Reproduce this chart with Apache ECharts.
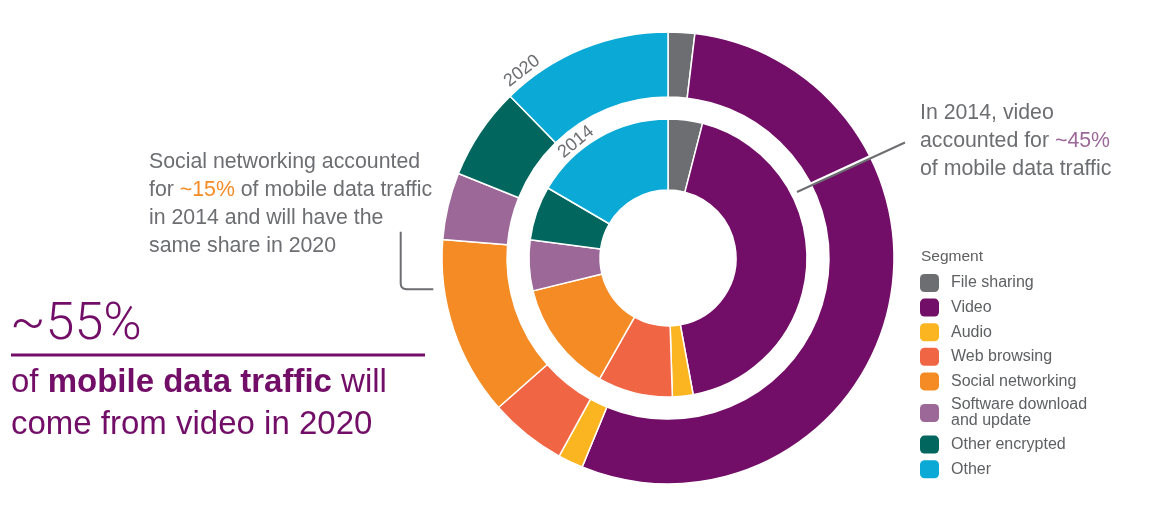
<!DOCTYPE html>
<html>
<head>
<meta charset="utf-8">
<script src="https://cdn.jsdelivr.net/npm/echarts@6/dist/echarts.min.js"></script>
<style>
html,body{margin:0;padding:0;background:#fff;}
#chart{width:1168px;height:524px;}
</style>
</head>
<body>
<div id="chart"></div>
<script>
var segments = ['File sharing', 'Video', 'Audio', 'Web browsing', 'Social networking', 'Software download and update', 'Other encrypted', 'Other'];
var colors = ['#6d6e71', '#720e67', '#fbb520', '#f06543', '#f48b24', '#9b6898', '#00665e', '#0aa9d6'];
var share2014 = [4.0, 43.1, 2.4, 8.7, 13.0, 5.9, 6.3, 16.6];
var share2020 = [1.9, 54.3, 1.8, 5.5, 12.8, 4.8, 6.6, 12.3];
var ringLabels = ['2014', '2020'];

var gray = '#6d6e71';
var font = 'Liberation Sans, Arial, sans-serif';

function toData(vals) {
  return segments.map(function (n, i) { return { name: n, value: vals[i], itemStyle: { color: colors[i] } }; });
}

var chart = echarts.init(document.getElementById('chart'), null, { renderer: 'canvas' });
var option = {
  animation: false,
  backgroundColor: '#fff',
  color: colors,
  legend: {
    orient: 'vertical',
    left: 920,
    top: 274,
    padding: 0,
    icon: 'roundRect',
    itemWidth: 19,
    itemHeight: 18,
    itemGap: 6.6,
    itemStyle: { borderWidth: 0 },
    selectedMode: false,
    data: segments,
    formatter: function (n) { return n === 'Software download and update' ? 'Software download\nand update' : n; },
    textStyle: { fontFamily: font, fontSize: 16, color: '#5f6062', lineHeight: 16, padding: [0, 0, 0, 7] }
  },
  graphic: [
    { type: 'text', z: 20, x: 921, y: 249, style: { text: 'Segment', font: '15.5px ' + font, fill: '#5f6062' } },
    { type: 'text', z: 20, x: 576, y: 142, rotation: 0.68, style: { text: ringLabels[0], font: '18px ' + font, fill: gray, align: 'center', verticalAlign: 'middle' } },
    { type: 'text', z: 20, x: 522, y: 71, rotation: 0.66, style: { text: ringLabels[1], font: '18px ' + font, fill: gray, align: 'center', verticalAlign: 'middle', stroke: '#fff', lineWidth: 3 } },
    { type: 'line', z: 20, shape: { x1: 799, y1: 189.3, x2: 905, y2: 140.3 }, style: { stroke: '#fff', lineWidth: 3 } },
    { type: 'line', z: 21, shape: { x1: 797, y1: 192, x2: 905, y2: 142.5 }, style: { stroke: gray, lineWidth: 2 } },
    { type: 'polyline', z: 20, shape: { points: [[400.7, 231.7], [400.7, 284], [401.4, 286.8], [403.3, 288.6], [406.5, 289.3], [433.3, 289.3]] }, style: { stroke: gray, lineWidth: 2, fill: null } },
    { type: 'text', z: 20, x: 920, y: 99, style: {
        text: '{g|In 2014, video}\n{g|accounted for }{p|~45%}\n{g|of mobile data traffic}',
        rich: {
          g: { fontFamily: font, fontSize: 21.3, fill: gray, color: gray, lineHeight: 28 },
          p: { fontFamily: font, fontSize: 21.3, fill: '#9b6898', color: '#9b6898', lineHeight: 28 }
        } } },
    { type: 'text', z: 20, x: 149, y: 148, style: {
        text: '{g|Social networking accounted}\n{g|for }{o|~15%}{g| of mobile data traffic}\n{g|in 2014 and will have the}\n{g|same share in 2020}',
        rich: {
          g: { fontFamily: font, fontSize: 21.3, fill: gray, color: gray, lineHeight: 28 },
          o: { fontFamily: font, fontSize: 21.3, fill: '#f48b24', color: '#f48b24', lineHeight: 28 }
        } } },
    { type: 'text', z: 20, x: 10, y: 326, style: { text: '~55%', fontFamily: 'Roboto, sans-serif', fontWeight: 300, fontSize: 52, fill: '#720e67', verticalAlign: 'middle' } },
    { type: 'rect', z: 20, shape: { x: 11, y: 353.5, width: 414, height: 3 }, style: { fill: '#720e67' } },
    { type: 'text', z: 20, x: 11, y: 362, style: {
        text: '{n|of }{b|mobile data traffic}{n| will}\n{n|come from video in 2020}',
        rich: {
          n: { fontFamily: font, fontSize: 33, fill: '#720e67', color: '#720e67', lineHeight: 42 },
          b: { fontFamily: font, fontSize: 33, fontWeight: 'bold', fill: '#720e67', color: '#720e67', lineHeight: 42 }
        } } }
  ],
  series: [
    {
      name: ringLabels[0], type: 'pie', center: [668, 258], radius: [68, 139],
      startAngle: 90, clockwise: true, label: { show: false }, labelLine: { show: false },
      itemStyle: { borderColor: '#fff', borderWidth: 1.5 }, emphasis: { disabled: true },
      data: toData(share2014)
    },
    {
      name: ringLabels[1], type: 'pie', center: [668, 258], radius: [161, 226],
      startAngle: 90, clockwise: true, label: { show: false }, labelLine: { show: false },
      itemStyle: { borderColor: '#fff', borderWidth: 1.5 }, emphasis: { disabled: true },
      data: toData(share2020)
    }
  ]
};
chart.setOption(option);
</script>
</body>
</html>
